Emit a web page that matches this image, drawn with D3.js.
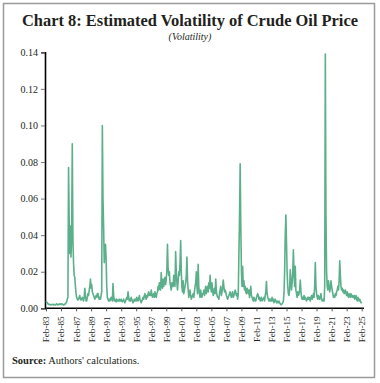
<!DOCTYPE html>
<html><head><meta charset="utf-8">
<script src="https://cdn.jsdelivr.net/npm/d3@7"></script>
<style>body{margin:0;background:#fff;} svg{display:block;}</style>
</head><body>
<svg id="c" width="380" height="383"></svg>
<script>
// Monthly estimated volatility, starting Feb-1983
const startYear = 1983, startMonth = 1; // Feb (0-based)
const volatility = [
/*1983*/ 0.004,0.0035,0.003,0.0025,0.0022,0.002,0.0022,0.002,0.0018,0.002,0.0022,
/*1984*/ 0.002,0.0018,0.0022,0.002,0.0018,0.002,0.0025,0.002,0.0018,0.0022,0.002,0.0025,
/*1985*/ 0.0022,0.002,0.0025,0.0022,0.002,0.0018,0.0022,0.002,0.0025,0.003,0.0035,0.005,
/*1986*/ 0.006,0.077,0.05,0.03,0.045,0.028,0.04,0.09,0.038,0.025,0.018,0.017,
/*1987*/ 0.012,0.008,0.006,0.005,0.0045,0.005,0.006,0.007,0.005,0.0045,0.005,0.006,
/*1988*/ 0.005,0.004,0.006,0.011,0.007,0.004,0.004,0.006,0.008,0.007,0.01,0.012,
/*1989*/ 0.016,0.011,0.013,0.009,0.008,0.007,0.006,0.005,0.006,0.007,0.006,0.008,
/*1990*/ 0.008,0.006,0.005,0.006,0.005,0.007,0.009,0.1,0.06,0.045,0.025,0.03,
/*1991*/ 0.035,0.027,0.012,0.006,0.005,0.004,0.005,0.004,0.005,0.006,0.005,0.004,
/*1992*/ 0.0135,0.007,0.004,0.005,0.004,0.0035,0.005,0.004,0.0045,0.004,0.005,0.004,
/*1993*/ 0.004,0.005,0.004,0.0035,0.004,0.005,0.004,0.003,0.004,0.005,0.006,0.005,
/*1994*/ 0.009,0.006,0.004,0.005,0.004,0.006,0.005,0.004,0.003,0.004,0.005,0.004,
/*1995*/ 0.005,0.004,0.006,0.005,0.004,0.005,0.007,0.005,0.004,0.003,0.004,0.005,
/*1996*/ 0.006,0.005,0.007,0.008,0.006,0.005,0.007,0.006,0.008,0.009,0.007,0.008,
/*1997*/ 0.007,0.01,0.008,0.006,0.007,0.008,0.006,0.009,0.007,0.006,0.008,0.009,
/*1998*/ 0.012,0.01,0.014,0.011,0.01,0.0195,0.013,0.011,0.016,0.012,0.014,0.017,
/*1999*/ 0.013,0.016,0.02,0.035,0.022,0.018,0.02,0.014,0.012,0.01,0.014,0.012,
/*2000*/ 0.012,0.018,0.015,0.012,0.031,0.02,0.014,0.01,0.015,0.02,0.018,0.025,
/*2001*/ 0.037,0.02,0.012,0.009,0.015,0.008,0.01,0.012,0.014,0.018,0.028,0.015,
/*2002*/ 0.01,0.006,0.008,0.01,0.007,0.005,0.006,0.007,0.008,0.006,0.009,0.012,
/*2003*/ 0.014,0.02,0.012,0.008,0.024,0.012,0.008,0.006,0.01,0.007,0.006,0.008,
/*2004*/ 0.008,0.01,0.007,0.009,0.012,0.008,0.01,0.012,0.009,0.014,0.011,0.018,
/*2005*/ 0.012,0.009,0.014,0.01,0.007,0.009,0.011,0.008,0.016,0.01,0.007,0.006,
/*2006*/ 0.006,0.005,0.008,0.01,0.012,0.007,0.009,0.011,0.0155,0.012,0.009,0.01,
/*2007*/ 0.009,0.007,0.006,0.005,0.006,0.007,0.008,0.009,0.007,0.006,0.008,0.009,
/*2008*/ 0.006,0.007,0.008,0.01,0.009,0.007,0.008,0.005,0.008,0.03,0.05,0.079,
/*2009*/ 0.045,0.02,0.012,0.023,0.012,0.015,0.01,0.012,0.009,0.008,0.011,0.01,
/*2010*/ 0.008,0.01,0.006,0.009,0.012,0.007,0.006,0.005,0.004,0.006,0.005,0.004,
/*2011*/ 0.004,0.006,0.007,0.008,0.007,0.005,0.006,0.004,0.005,0.006,0.004,0.005,
/*2012*/ 0.005,0.006,0.004,0.007,0.009,0.0146,0.008,0.006,0.005,0.004,0.005,0.004,
/*2013*/ 0.005,0.004,0.006,0.004,0.005,0.003,0.004,0.005,0.004,0.003,0.004,0.003,
/*2014*/ 0.003,0.004,0.003,0.0025,0.002,0.002,0.0025,0.003,0.004,0.008,0.02,0.04,
/*2015*/ 0.051,0.035,0.02,0.012,0.008,0.007,0.01,0.021,0.015,0.01,0.014,0.02,
/*2016*/ 0.032,0.018,0.012,0.023,0.01,0.008,0.006,0.009,0.007,0.008,0.01,0.0155,
/*2017*/ 0.009,0.006,0.005,0.006,0.005,0.007,0.005,0.006,0.005,0.004,0.005,0.006,
/*2018*/ 0.005,0.006,0.005,0.004,0.006,0.007,0.005,0.006,0.008,0.006,0.012,0.025,
/*2019*/ 0.012,0.008,0.006,0.005,0.007,0.006,0.005,0.006,0.008,0.005,0.004,0.004,
/*2020*/ 0.005,0.004,0.012,0.139,0.05,0.02,0.012,0.01,0.015,0.012,0.009,0.011,
/*2021*/ 0.015,0.012,0.01,0.008,0.006,0.007,0.006,0.008,0.007,0.009,0.01,0.012,
/*2022*/ 0.01,0.015,0.026,0.018,0.012,0.01,0.011,0.009,0.01,0.008,0.009,0.01,
/*2023*/ 0.008,0.007,0.009,0.007,0.006,0.008,0.007,0.006,0.008,0.007,0.006,0.007,
/*2024*/ 0.006,0.007,0.005,0.006,0.007,0.005,0.004,0.006,0.005,0.004,0.005,0.004,
/*2025*/ 0.003,0.0035
];
const tickYears = d3.range(1983, 2026, 2);
const tickLabels = tickYears.map(y => "Feb-" + String(y).slice(2));
const yTicks = [0, 0.02, 0.04, 0.06, 0.08, 0.10, 0.12, 0.14];

const svg = d3.select("#c");
const serif = "'Liberation Serif', 'DejaVu Serif', serif";

// frame
svg.append("rect").attr("x", 3.5).attr("y", 3.5).attr("width", 371).attr("height", 374)
  .attr("fill", "none").attr("stroke", "#9a9a9a").attr("stroke-width", 1.5);

// titles
svg.append("text").attr("x", 190).attr("y", 26).attr("text-anchor", "middle")
  .attr("font-family", serif).attr("font-weight", "bold").attr("font-size", 17)
  .attr("fill", "#231f20").attr("textLength", 336).attr("lengthAdjust", "spacingAndGlyphs")
  .text("Chart 8: Estimated Volatility of Crude Oil Price");
svg.append("text").attr("x", 190).attr("y", 40).attr("text-anchor", "middle")
  .attr("font-family", serif).attr("font-style", "italic").attr("font-size", 10)
  .attr("fill", "#231f20").text("(Volatility)");

const data = volatility.map((v, i) => ({date: new Date(startYear, startMonth + i, 1), v}));
const x = d3.scaleTime().domain([new Date(1983, 1, 1), new Date(2025, 1, 1)]).range([46, 361.7]);
const y = d3.scaleLinear().domain([0, 0.14]).range([308.3, 52.3]);

// y axis
const yAxis = svg.append("g").attr("transform", "translate(45,0)")
  .call(d3.axisLeft(y).tickValues(yTicks).tickFormat(d3.format(".2f")).tickSize(4).tickPadding(3));
yAxis.select(".domain").attr("stroke", "#000").attr("stroke-width", 1.6);
yAxis.selectAll(".tick line").attr("stroke", "#777");
yAxis.selectAll("text").attr("font-family", serif).attr("font-size", 10).attr("fill", "#231f20");

// x axis
const xAxis = svg.append("g").attr("transform", "translate(0,308.3)")
  .call(d3.axisBottom(x).tickValues(tickYears.map(yy => new Date(yy, 1, 1)))
    .tickFormat((d, i) => tickLabels[i]).tickSize(3).tickSizeOuter(0));
xAxis.select(".domain").attr("stroke", "#000").attr("stroke-width", 1.6).attr("d", "M45,0H364");
xAxis.selectAll(".tick line").attr("stroke", "#555");
xAxis.selectAll("text").attr("font-family", serif).attr("font-size", 9.2).attr("fill", "#231f20")
  .attr("text-anchor", "end").attr("transform", "rotate(-90)").attr("x", -8).attr("y", 0).attr("dy", "0.32em");

// line
svg.append("path").datum(data).attr("fill", "none").attr("stroke", "#5bb08b").attr("stroke-width", 1.6)
  .attr("stroke-linejoin", "round")
  .attr("d", d3.line().x(d => x(d.date)).y(d => y(d.v)));

// source
const src = svg.append("text").attr("x", 12).attr("y", 364).attr("font-family", serif).attr("font-size", 10.5).attr("fill", "#231f20");
src.append("tspan").attr("font-weight", "bold").text("Source:");
src.append("tspan").text(" Authors' calculations.");
</script>
</body></html>
